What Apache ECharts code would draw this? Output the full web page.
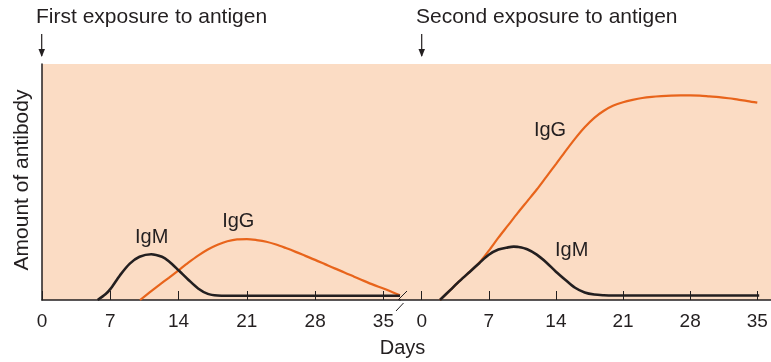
<!DOCTYPE html>
<html><head><meta charset="utf-8">
<script src="https://cdn.jsdelivr.net/npm/echarts@6/dist/echarts.min.js"></script>
<style>html,body{margin:0;padding:0;background:#fff}#c{width:771px;height:362px}</style>
</head><body><div id="c"></div>
<script>
const tickDays = [0, 7, 14, 21, 28, 35];
const igm1 = [[5.7,0],[6.5,2.4],[7,4.6],[8,10.5],[9,15.4],[10,18.3],[11.2,19.4],[12.3,18.3],[13,16.4],[14,12.6],[15,8.6],[16,4.9],[17,2.6],[18,1.9],[19,1.8],[22,1.8],[26,1.8],[30,1.8],[34,1.8],[36.7,1.8]];
const igg1 = [[10.05,0],[11,3.1],[12,6.3],[13,9.4],[14,12.6],[15,15.8],[16,18.8],[17,21.4],[18,23.4],[19,24.9],[20,25.7],[21,25.8],[22,25.4],[23,24.7],[24,23.5],[25,22],[26,20.4],[27,18.7],[28,17],[29,15.2],[30,13.4],[31,11.7],[32,9.9],[33,8.1],[34,6.4],[35,4.9],[36,3.2],[36.7,2]];
const igm2 = [[1.9,0],[3,4.3],[4,8.2],[5,11.9],[6,15.6],[7,19.2],[8,21.4],[9,22.3],[9.6,22.6],[10,22.5],[11,21.5],[12,19.2],[13,15.9],[14,12],[15,8.5],[16,5.2],[17,3.2],[18,2.3],[19,2],[20,1.9],[24,1.9],[28,1.9],[32,1.9],[35.2,1.9]];
const igg2 = [[1.9,0],[3,4.3],[4,8.2],[5,11.9],[6,15.8],[7,20.9],[8,26.4],[9,31.6],[10,36.8],[11,41.8],[12,46.8],[13,52.2],[14,57.6],[15,63.1],[16,68.4],[17,73.2],[18,77.2],[19,80.2],[20,82.4],[21,83.8],[22,84.8],[23,85.6],[24,86.1],[25,86.4],[26,86.6],[27,86.7],[28,86.7],[29,86.6],[30,86.3],[31,86],[32,85.5],[33,84.9],[34,84.3],[35,83.6]];

const TXT = '#231f20', ORANGE = '#e8641b', PEACH = '#fbdcc4';
const FONT = 'Liberation Sans, Arial, sans-serif';
const chart = echarts.init(document.getElementById('c'));
function xa(gi, min, max) {
  return {
    type: 'value', gridIndex: gi, min: min, max: max,
    axisLine: {show: true, lineStyle: {color: TXT, width: 1.5}},
    axisTick: {show: true, inside: true, length: 9, customValues: tickDays, lineStyle: {color: TXT, width: 1}},
    axisLabel: {show: true, customValues: tickDays, color: TXT, fontSize: 19, fontFamily: FONT, margin: 12},
    splitLine: {show: false}
  };
}
chart.setOption({
  animation: false,
  backgroundColor: '#fff',
  grid: [
    {left: 42, top: 64, width: 358, height: 236, show: true, backgroundColor: PEACH, borderWidth: 0},
    {left: 400, top: 64, width: 371, height: 236, show: true, backgroundColor: PEACH, borderWidth: 0}
  ],
  xAxis: [xa(0, 0, 36.7), xa(1, -2.263, 36.43)],
  yAxis: [
    {type: 'value', gridIndex: 0, min: 0, max: 100, axisLine: {show: true, lineStyle: {color: TXT, width: 1.5}}, axisTick: {show: false}, axisLabel: {show: false}, splitLine: {show: false}},
    {type: 'value', gridIndex: 1, min: 0, max: 100, show: false, splitLine: {show: false}}
  ],
  series: [
    {type: 'line', xAxisIndex: 0, yAxisIndex: 0, data: igg1, smooth: 0.3, symbol: 'none', lineStyle: {color: ORANGE, width: 2.2}},
    {type: 'line', xAxisIndex: 0, yAxisIndex: 0, data: igm1, smooth: 0.3, symbol: 'none', lineStyle: {color: TXT, width: 2.6}},
    {type: 'line', xAxisIndex: 1, yAxisIndex: 1, data: igg2, smooth: 0.3, symbol: 'none', lineStyle: {color: ORANGE, width: 2.2}},
    {type: 'line', xAxisIndex: 1, yAxisIndex: 1, data: igm2, smooth: 0.3, symbol: 'none', lineStyle: {color: TXT, width: 2.6}}
  ],
  graphic: [
    {type: 'text', left: 36, top: 7, style: {text: 'First exposure to antigen', fill: TXT, font: '21px ' + FONT}},
    {type: 'text', left: 416, top: 7, style: {text: 'Second exposure to antigen', fill: TXT, font: '21px ' + FONT}},
    {type: 'line', shape: {x1: 41.7, y1: 34, x2: 41.7, y2: 56}, style: {stroke: TXT, lineWidth: 1.2}},
    {type: 'polygon', shape: {points: [[38.5, 49], [45, 49], [41.7, 57]]}, style: {fill: TXT}},
    {type: 'line', shape: {x1: 421.7, y1: 34, x2: 421.7, y2: 56}, style: {stroke: TXT, lineWidth: 1.2}},
    {type: 'polygon', shape: {points: [[418.5, 49], [425, 49], [421.7, 57]]}, style: {fill: TXT}},
    {type: 'text', x: 22, y: 180, rotation: Math.PI / 2, style: {text: 'Amount of antibody', fill: TXT, font: '21px ' + FONT, align: 'center', verticalAlign: 'middle'}},
    {type: 'text', x: 402.5, y: 348, style: {text: 'Days', fill: TXT, font: '20px ' + FONT, align: 'center', verticalAlign: 'middle'}},
    {type: 'text', x: 151.7, y: 237.5, style: {text: 'IgM', fill: TXT, font: '20px ' + FONT, align: 'center', verticalAlign: 'middle'}},
    {type: 'text', x: 238.3, y: 221.7, style: {text: 'IgG', fill: TXT, font: '20px ' + FONT, align: 'center', verticalAlign: 'middle'}},
    {type: 'text', x: 550, y: 130.7, style: {text: 'IgG', fill: TXT, font: '20px ' + FONT, align: 'center', verticalAlign: 'middle'}},
    {type: 'text', x: 571.7, y: 250, style: {text: 'IgM', fill: TXT, font: '20px ' + FONT, align: 'center', verticalAlign: 'middle'}},
    {type: 'line', z: 100, shape: {x1: 398, y1: 300, x2: 407, y2: 291}, style: {stroke: TXT, lineWidth: 1}},
    {type: 'line', z: 100, shape: {x1: 396, y1: 311, x2: 403.5, y2: 303}, style: {stroke: TXT, lineWidth: 1}}
  ]
});
</script></body></html>
